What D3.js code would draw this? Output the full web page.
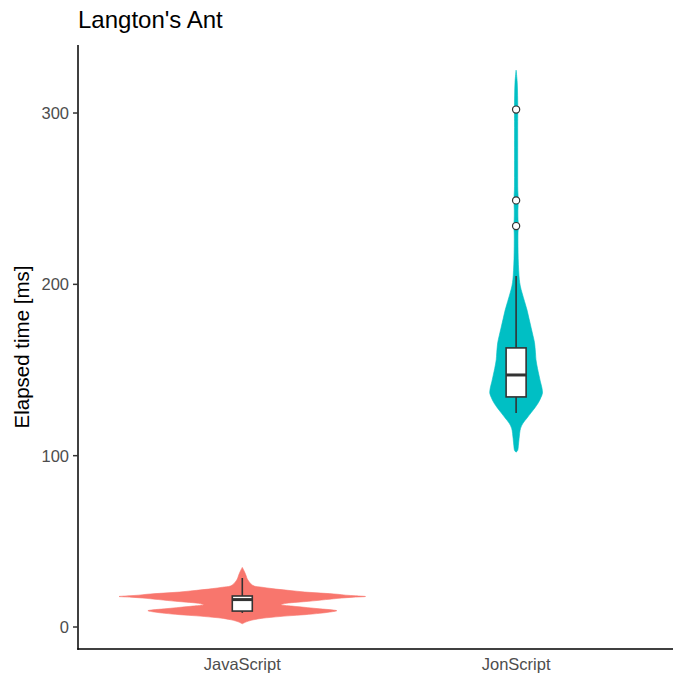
<!DOCTYPE html>
<html>
<head>
<meta charset="utf-8">
<script src="https://cdn.jsdelivr.net/npm/d3@7"></script>
<style>
  html, body { margin: 0; padding: 0; background: #fff; }
  svg { display: block; }
  text { font-family: "Liberation Sans", Arial, Helvetica, sans-serif; }
</style>
</head>
<body>
<svg id="chart" width="673" height="682"></svg>
<script>
// Benchmark: elapsed time per language
const categories = ["JavaScript", "JonScript"];
const fills = ["#F8766D", "#00BFC4"];
const yTicks = [0, 100, 200, 300];

// Kernel density profiles (value in ms, relative density)
const jsDensityValues = [1.9, 3.0, 3.9, 5.0, 5.7, 6.5, 7.2, 8.0, 8.7, 9.5, 10.0, 10.6, 11.3, 12.2, 13.0, 13.8, 14.5, 15.0, 16.0, 16.9, 17.4, 17.8, 18.2, 18.6, 19.1, 19.8, 20.4, 21.4, 22.4, 23.2, 23.9, 25.0, 26.3, 28.0, 30.2, 32.5, 34.8];
const jsDensity      = [0, 4, 9, 19, 30, 46, 63, 78, 88, 95, 90, 78, 66, 50, 39, 44, 56, 67, 84, 100, 112, 124, 114, 104, 96, 79, 63, 46, 30, 20, 12, 9, 7, 5, 3.7, 2, 0];

const jonDensityValues = [102, 103, 106, 110, 116, 119, 122, 125, 128, 131, 134, 136.5, 139.5, 143, 147, 151, 156, 160, 166, 170, 175, 180, 185, 190, 195, 199, 203, 208, 215, 222, 230, 234, 238, 243, 249, 255, 265, 280, 295, 302, 310, 318, 325];
const jonDensity      = [0, 1.5, 2.3, 3, 4.5, 7, 11, 15, 19, 22.5, 25, 26.5, 26, 24.5, 23, 21.5, 20, 19.5, 18.5, 17, 15, 13, 11, 8.5, 6, 4.2, 3.2, 2.6, 2.1, 1.9, 1.9, 2.3, 1.9, 1.8, 2.2, 1.7, 1.6, 1.6, 1.6, 1.7, 1.5, 1.1, 0];

// Box plot summaries per category
const whiskerLow  = [8.2, 124.9];
const q1          = [9.3, 134.3];
const median      = [16.0, 147.1];
const q3          = [18.1, 162.9];
const whiskerHigh = [28.6, 204.9];

// Outlying observations (category index, value)
const outlierGroup = [1, 1, 1];
const outlierValue = [234, 249, 302];

const svg = d3.select("#chart");
const panel = { left: 78, right: 680.4, top: 45, bottom: 649 };

const x = d3.scaleLinear().domain([0.4, 2.6]).range([panel.left, panel.right]);
const y = d3.scaleLinear().domain([-12.84, 339.7]).range([panel.bottom, panel.top]);

// violin half-width: largest density spans 0.45 of a category slot
const maxDensity = d3.max([...jsDensity, ...jonDensity]);
const unit = x(1) - x(0);
const w = d3.scaleLinear().domain([0, maxDensity]).range([0, 0.45 * unit]);

const profiles = [
  jsDensityValues.map((v, i) => ({ v, d: jsDensity[i] })),
  jonDensityValues.map((v, i) => ({ v, d: jonDensity[i] }))
];

const g = svg.append("g");

profiles.forEach((prof, i) => {
  const cx = x(i + 1);
  const area = d3.area()
    .curve(d3.curveCatmullRom.alpha(0.5))
    .y(p => y(p.v))
    .x0(p => cx - w(p.d))
    .x1(p => cx + w(p.d));
  g.append("path")
    .attr("d", area(prof))
    .attr("fill", fills[i])
    .attr("stroke", fills[i])
    .attr("stroke-width", 0.6);
});

// box plots
const boxHalf = 10;
categories.forEach((c, i) => {
  const cx = x(i + 1);
  const bg = g.append("g");
  bg.append("line")
    .attr("x1", cx).attr("x2", cx)
    .attr("y1", y(q3[i])).attr("y2", y(whiskerHigh[i]))
    .attr("stroke", "#333").attr("stroke-width", 1.6);
  bg.append("line")
    .attr("x1", cx).attr("x2", cx)
    .attr("y1", y(q1[i])).attr("y2", y(whiskerLow[i]))
    .attr("stroke", "#333").attr("stroke-width", 1.6);
  bg.append("rect")
    .attr("x", cx - boxHalf).attr("width", 2 * boxHalf)
    .attr("y", y(q3[i])).attr("height", y(q1[i]) - y(q3[i]))
    .attr("fill", "#fff").attr("stroke", "#333").attr("stroke-width", 1.6);
  bg.append("line")
    .attr("x1", cx - boxHalf).attr("x2", cx + boxHalf)
    .attr("y1", y(median[i])).attr("y2", y(median[i]))
    .attr("stroke", "#333").attr("stroke-width", 3);
});

g.selectAll("circle.outlier")
  .data(outlierValue.map((v, i) => ({ v, g: outlierGroup[i] })))
  .join("circle")
  .attr("class", "outlier")
  .attr("cx", d => x(d.g + 1))
  .attr("cy", d => y(d.v))
  .attr("r", 3.6)
  .attr("fill", "#fff")
  .attr("stroke", "#333")
  .attr("stroke-width", 1.2);

// y axis
const yAxis = svg.append("g").attr("transform", `translate(${panel.left},0)`);
yAxis.append("line")
  .attr("x1", 0).attr("x2", 0).attr("y1", panel.top).attr("y2", panel.bottom + 0.75)
  .attr("stroke", "#000").attr("stroke-width", 1.5);
yAxis.selectAll("line.tick").data(yTicks).join("line")
  .attr("class", "tick")
  .attr("x1", -5).attr("x2", 0)
  .attr("y1", d => y(d)).attr("y2", d => y(d))
  .attr("stroke", "#333").attr("stroke-width", 1.5);
yAxis.selectAll("text").data(yTicks).join("text")
  .attr("x", -9).attr("y", d => y(d))
  .attr("dy", "0.36em")
  .attr("text-anchor", "end")
  .attr("fill", "#4D4D4D")
  .attr("font-size", 16.5)
  .text(d => d);

// x axis
const xAxis = svg.append("g").attr("transform", `translate(0,${panel.bottom})`);
xAxis.append("line")
  .attr("x1", panel.left - 0.75).attr("x2", 673).attr("y1", 0).attr("y2", 0)
  .attr("stroke", "#000").attr("stroke-width", 1.5);
xAxis.selectAll("text").data(categories).join("text")
  .attr("x", (d, i) => x(i + 1))
  .attr("y", 21)
  .attr("text-anchor", "middle")
  .attr("fill", "#4D4D4D")
  .attr("font-size", 16.5)
  .text(d => d);

// axis title and chart title
svg.append("text")
  .attr("transform", `translate(29,${(panel.top + panel.bottom) / 2}) rotate(-90)`)
  .attr("text-anchor", "middle")
  .attr("fill", "#000")
  .attr("font-size", 20.5)
  .text("Elapsed time [ms]");

svg.append("text")
  .attr("x", panel.left)
  .attr("y", 28)
  .attr("fill", "#000")
  .attr("font-size", 24)
  .text("Langton's Ant");
</script>
</body>
</html>
